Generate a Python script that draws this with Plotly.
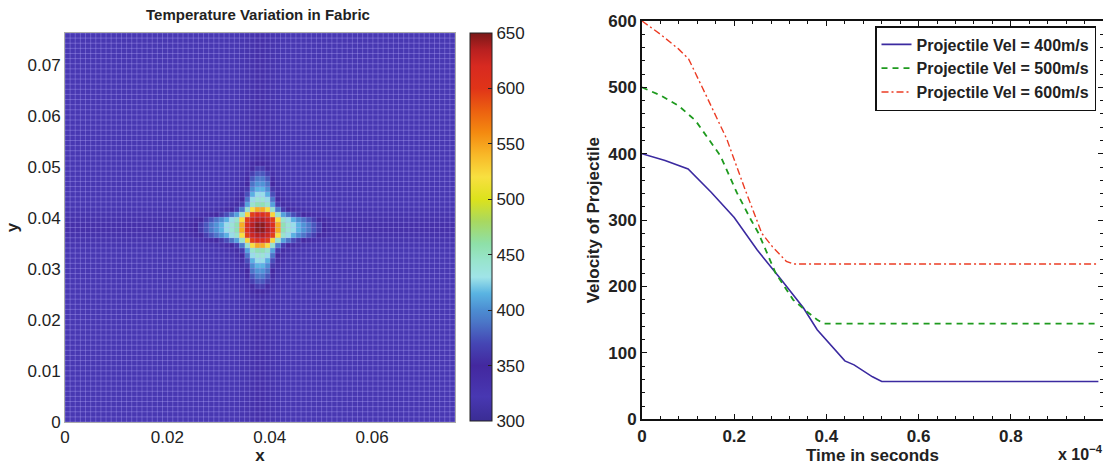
import numpy as np
import plotly.graph_objects as go

# ---------------- data: temperature field ----------------
plate_size = 0.0762          # m (3 in fabric)
n_cells = 76
background_temp = 322
# temperatures along the faint cross bands (offset from centre line, in cells)
band_temp = [334, 331, 328, 325]
# quadrant of the hot spot (row/col offset from plate centre, in cells)
hot_quadrant = [
    [645, 635, 610, 545, 455, 440, 428, 415, 402, 390, 376, 362, 350, 340],
    [635, 625, 595, 520, 445, 428, 414, 400, 388, 376, 364, 352, 343, 335],
    [610, 595, 525, 445, 408, 388, 372, 360, 350, 343, 337, 332, 329, 327],
    [545, 520, 445, 392, 362, 348, 340, 335, 331, 328, 326, 325, 324, 323],
    [455, 445, 408, 362, 342, 334, 330, 327, 325, 324, 323, 323, 322, 322],
    [440, 428, 388, 348, 334, 329, 326, 324, 323, 322, 322, 322, 322, 322],
    [428, 414, 372, 340, 330, 326, 324, 323, 322, 322, 322, 322, 322, 322],
    [415, 400, 360, 335, 327, 324, 323, 322, 322, 322, 322, 322, 322, 322],
    [402, 388, 350, 331, 325, 323, 322, 322, 322, 322, 322, 322, 322, 322],
    [390, 376, 343, 328, 324, 322, 322, 322, 322, 322, 322, 322, 322, 322],
    [376, 364, 337, 326, 323, 322, 322, 322, 322, 322, 322, 322, 322, 322],
    [362, 352, 332, 325, 323, 322, 322, 322, 322, 322, 322, 322, 322, 322],
    [350, 343, 329, 324, 322, 322, 322, 322, 322, 322, 322, 322, 322, 322],
    [340, 335, 327, 323, 322, 322, 322, 322, 322, 322, 322, 322, 322, 322],
]
x_ticks_left = [0, 0.02, 0.04, 0.06]
x_ticklabels_left = ["0", "0.02", "0.04", "0.06"]
y_ticks_left = [0, 0.01, 0.02, 0.03, 0.04, 0.05, 0.06, 0.07]
y_ticklabels_left = ["0", "0.01", "0.02", "0.03", "0.04", "0.05", "0.06", "0.07"]
cbar_ticks = [300, 350, 400, 450, 500, 550, 600, 650]

# ---------------- data: projectile velocity ----------------
t400 = [0, 0.05, 0.1, 0.15, 0.2, 0.25, 0.3, 0.35, 0.38, 0.4, 0.42, 0.44, 0.46, 0.48, 0.5, 0.52, 0.99]
v400 = [400, 390, 377, 342, 304, 255, 212, 168, 135, 119, 103, 88, 82, 73, 64, 57, 57]
t500 = [0, 0.04, 0.08, 0.116, 0.17, 0.206, 0.236, 0.253, 0.29, 0.328, 0.358, 0.38, 0.395, 0.99]
v500 = [500, 488, 472, 450, 397, 341, 301, 280, 220, 180, 162, 150, 144, 144]
t600 = [0, 0.04, 0.079, 0.101, 0.139, 0.184, 0.221, 0.26, 0.283, 0.313, 0.328, 0.99]
v600 = [600, 580, 558, 543, 488, 422, 351, 280, 260, 238, 234, 234]
x_ticks_right = [0, 0.2, 0.4, 0.6, 0.8]
x_ticklabels_right = ["0", "0.2", "0.4", "0.6", "0.8"]
series_names = ["Projectile Vel = 400m/s", "Projectile Vel = 500m/s", "Projectile Vel = 600m/s"]

# ---------------- build field ----------------
half = n_cells // 2
K = len(hot_quadrant)
field = np.full((n_cells, n_cells), float(background_temp))
for r in range(n_cells):
    di = r - half if r >= half else half - 1 - r
    for c in range(n_cells):
        dj = c - half if c >= half else half - 1 - c
        if di < K and dj < K:
            field[r, c] = hot_quadrant[di][dj]
        elif min(di, dj) < len(band_temp):
            field[r, c] = band_temp[min(di, dj)]

dx = plate_size / n_cells
centers = [(k + 0.5) * dx for k in range(n_cells)]
edges = [k * dx for k in range(n_cells + 1)]

colorscale = [
    [0.000, "#3a2c94"], [0.063, "#4838b2"], [0.143, "#43289f"], [0.200, "#4546b4"],
    [0.257, "#4b78c8"], [0.286, "#4c8dd2"], [0.329, "#5ab4e2"], [0.371, "#a0e4e8"],
    [0.414, "#98e4cc"], [0.457, "#8ee0a8"], [0.514, "#a8d860"], [0.571, "#dce21c"],
    [0.629, "#f8e040"], [0.686, "#f8b828"], [0.743, "#f48a10"], [0.800, "#ec6010"],
    [0.857, "#e03418"], [0.914, "#d82a20"], [0.957, "#b82020"], [1.000, "#7a1818"],
]

FONT = "Liberation Sans, Arial, Helvetica, sans-serif"

fig = go.Figure()
fig.add_trace(go.Heatmap(
    z=field, x=centers, y=centers, zmin=300, zmax=650, colorscale=colorscale,
    xaxis="x", yaxis="y",
    colorbar=dict(
        x=470 / 1103, xanchor="left", xref="paper", xpad=0, ypad=0,
        y=1 - 421 / 465, yanchor="bottom", len=(421 - 33) / 465, lenmode="fraction",
        thickness=22, outlinecolor="#222", outlinewidth=1,
        tickvals=cbar_ticks, ticks="inside", ticklen=4, tickcolor="#222",
        tickfont=dict(family=FONT, size=17, color="#222"),
    ),
))

# mesh lines overlay
gx, gy = [], []
for e in edges:
    gx += [e, e, None]
    gy += [0, plate_size, None]
    gx += [0, plate_size, None]
    gy += [e, e, None]
fig.add_trace(go.Scatter(x=gx, y=gy, mode="lines", xaxis="x", yaxis="y",
                         line=dict(color="rgba(190,180,255,0.32)", width=1),
                         hoverinfo="skip", showlegend=False))

fig.add_trace(go.Scatter(x=t400, y=v400, mode="lines", name="<b>" + series_names[0] + "</b>",
                         xaxis="x2", yaxis="y2", line=dict(color="#3b2aa0", width=1.6)))
fig.add_trace(go.Scatter(x=t500, y=v500, mode="lines", name="<b>" + series_names[1] + "</b>",
                         xaxis="x2", yaxis="y2", line=dict(color="#1e9a1e", width=1.8, dash="6px,5px")))
fig.add_trace(go.Scatter(x=t600, y=v600, mode="lines", name="<b>" + series_names[2] + "</b>",
                         xaxis="x2", yaxis="y2", line=dict(color="#ec3c24", width=1.4, dash="7px,3px,2px,3px")))

fig.update_layout(
    width=1103, height=465, margin=dict(l=0, r=0, t=0, b=0),
    paper_bgcolor="white", plot_bgcolor="white",
    font=dict(family=FONT, color="#222"),
    xaxis=dict(domain=[65 / 1103, 455 / 1103], range=[0, plate_size], tickvals=x_ticks_left,
               ticktext=x_ticklabels_left, showgrid=False, zeroline=False, showline=True,
               linecolor="#aaa", linewidth=1, mirror=True, ticks="", automargin=False,
               tickfont=dict(size=17, color="#222"),
               title=dict(text="<b>x</b>", font=dict(size=17), standoff=2)),
    yaxis=dict(domain=[1 - 422 / 465, 1 - 33 / 465], range=[0, plate_size], tickvals=y_ticks_left,
               ticktext=y_ticklabels_left, showgrid=False, zeroline=False, showline=True,
               linecolor="#aaa", linewidth=1, mirror=True, ticks="", automargin=False,
               tickfont=dict(size=17, color="#222"),
               title=dict(text="<b>y</b>", font=dict(size=17), standoff=4)),
    xaxis2=dict(domain=[642 / 1103, 1.0], range=[0, 1], tickvals=x_ticks_right,
                ticktext=["<b>" + s + "</b>" for s in x_ticklabels_right],
                showgrid=False, zeroline=False, showline=True,
                linecolor="#111", linewidth=2, mirror="allticks", ticks="inside", ticklen=5,
                tickcolor="#111", minor=dict(ticks="inside", ticklen=3, dtick=0.04, tickcolor="#111"),
                anchor="y2", automargin=False, tickfont=dict(size=17, color="#222"),
                title=dict(text="<b>Time in seconds</b>", font=dict(size=17), standoff=0)),
    yaxis2=dict(domain=[1 - 419.3 / 465, 1 - 21 / 465], range=[0, 600], dtick=100,
                tickprefix="<b>", ticksuffix="</b>",
                showgrid=False, zeroline=False, showline=True,
                linecolor="#111", linewidth=2, mirror="allticks", ticks="inside", ticklen=5,
                tickcolor="#111", minor=dict(ticks="inside", ticklen=3, dtick=20, tickcolor="#111"),
                anchor="x2", automargin=False, tickfont=dict(size=17, color="#222"),
                title=dict(text="<b>Velocity of Projectile</b>", font=dict(size=17), standoff=4)),
    legend=dict(x=875 / 1103, xanchor="left", y=1 - 26 / 465, yanchor="top",
                bgcolor="white", bordercolor="#111", borderwidth=1.5, itemwidth=30,
                font=dict(size=16, color="#222"), tracegroupgap=0),
    annotations=[
        dict(text="<b>Temperature Variation in Fabric</b>", x=258 / 1103, y=1 - 15 / 465,
             xref="paper", yref="paper", xanchor="center", yanchor="middle", showarrow=False,
             font=dict(size=15, color="#222")),
        dict(text="<b>x 10<sup>−4</sup></b>", x=1056 / 1103, y=1 - 453 / 465, xref="paper", yref="paper",
             xanchor="left", yanchor="middle", showarrow=False,
             font=dict(size=16, color="#222")),
    ],
)

fig.write_html("out.html", config={"displayModeBar": False},
               post_script="document.body.style.margin='0';document.body.style.overflow='hidden';")
